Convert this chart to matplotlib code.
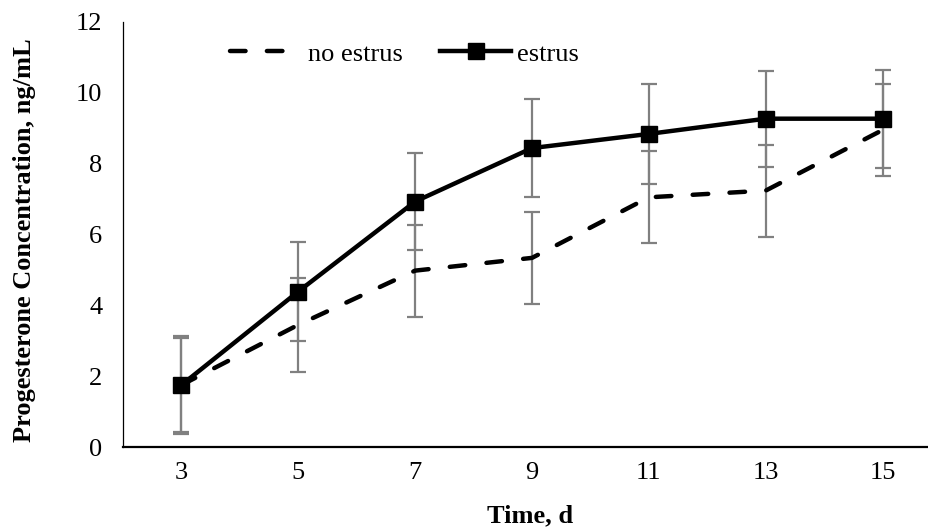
import matplotlib
matplotlib.use("Agg")
import numpy as np
import matplotlib.pyplot as plt

# ---------------------------------------------------------------------------
# Data
# ---------------------------------------------------------------------------
days = ["3", "5", "7", "9", "11", "13", "15"]
no_estrus = [1.75, 3.45, 4.98, 5.34, 7.05, 7.24, 8.95]
no_estrus_err = [1.32, 1.32, 1.30, 1.30, 1.30, 1.30, 1.30]
estrus = [1.75, 4.39, 6.93, 8.44, 8.84, 9.27, 9.27]
estrus_err = [1.38, 1.40, 1.37, 1.38, 1.40, 1.35, 1.38]

FS = 19
plt.rcParams["font.family"] = ["Liberation Serif", "DejaVu Serif"]
plt.rcParams["font.size"] = FS

fig = plt.figure(figsize=(9.29, 5.29), dpi=100)
# axes run slightly past the right edge, as in the cropped original
ax = fig.add_axes([123 / 929, 82 / 529, 818 / 929, 425 / 529])

x = np.arange(len(days))
err_style = dict(ecolor="#808080", elinewidth=1.6, capsize=5.8, capthick=1.6, fmt="none", zorder=1)

ax.errorbar(x, no_estrus, yerr=no_estrus_err, **err_style)
ax.errorbar(x, estrus, yerr=estrus_err, **err_style)

line_no, = ax.plot(x, no_estrus, color="black", lw=3.2, linestyle=(0, (3.5, 4.8)),
                   dash_capstyle="round", zorder=2, label="no estrus")
line_es, = ax.plot(x, estrus, color="black", lw=3.2, marker="s", markersize=11.5,
                   zorder=3, label="estrus")

ax.set_xlim(-0.5, len(days) - 0.5)
ax.set_ylim(0, 12)
ax.set_xticks(x)
ax.set_xticklabels(days)
ax.set_yticks(range(0, 13, 2))
ax.tick_params(axis="both", length=0, labelsize=FS)
ax.tick_params(axis="y", pad=15)
ax.tick_params(axis="x", pad=11)

for side in ["top", "right"]:
    ax.spines[side].set_visible(False)
ax.spines["left"].set_linewidth(0.9)
ax.spines["bottom"].set_linewidth(1.6)

fig.text(530 / 929, 1 - 516 / 529, "Time, d", ha="center", va="center",
         fontsize=FS, fontweight="bold")
fig.text(25 / 929, 1 - 240 / 529, "Progesterone Concentration, ng/mL", ha="center",
         va="center", rotation=90, fontsize=FS, fontweight="bold")

# two legend entries placed separately (Excel spacing differs between them)
leg1 = ax.legend(handles=[line_no], loc="center left",
                 bbox_to_anchor=(230 / 929, 1 - 54 / 529), bbox_transform=fig.transFigure,
                 frameon=False, fontsize=FS, handlelength=2.15, handletextpad=0.8,
                 borderpad=0, borderaxespad=0)
ax.add_artist(leg1)
ax.legend(handles=[line_es], loc="center left",
          bbox_to_anchor=(440 / 929, 1 - 54 / 529), bbox_transform=fig.transFigure,
          frameon=False, fontsize=FS, handlelength=2.7, handletextpad=0.2,
          borderpad=0, borderaxespad=0)

fig.savefig("out.png", dpi=100)
